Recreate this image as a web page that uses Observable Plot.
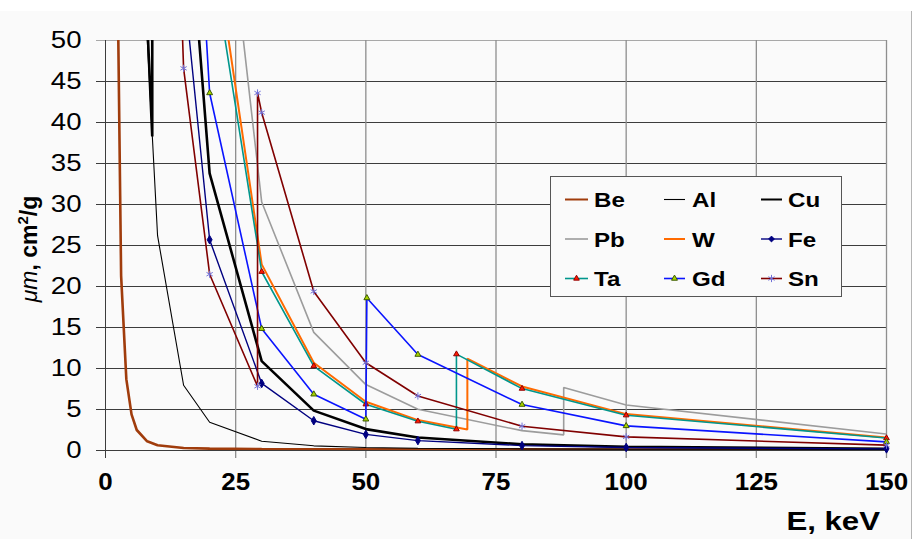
<!DOCTYPE html>
<html>
<head>
<meta charset="utf-8">
<script src="https://cdn.jsdelivr.net/npm/d3@7"></script>
<script src="https://cdn.jsdelivr.net/npm/@observablehq/plot@0.6"></script>
<style>
  html, body { margin: 0; padding: 0; background: #ffffff; }
  #wrap { position: relative; width: 912px; height: 539px; overflow: hidden; background: #ffffff; }
  #chart { position: absolute; left: 0; top: 11px; }
  #chart svg { display: block; }
</style>
</head>
<body>
<div id="wrap"><div id="chart"></div></div>
<script>
// Mass attenuation coefficient (cm²/g) against photon energy (keV)
const energyTicks = [0, 25, 50, 75, 100, 125, 150];
const muTicks = [0, 5, 10, 15, 20, 25, 30, 35, 40, 45, 50];

const seriesNames = ["Be", "Al", "Cu", "Pb", "W", "Fe", "Ta", "Gd", "Sn"];

const energyBe = [2, 3, 4, 5, 6, 8, 10, 15, 20, 30, 40, 50, 60, 80, 100, 150];
const muBe = [74.7, 21.3, 8.7, 4.4, 2.5, 1.12, 0.65, 0.31, 0.23, 0.18, 0.16, 0.155, 0.15, 0.14, 0.13, 0.12];

const energyAl = [6, 8, 10, 15, 20, 30, 40, 50, 60, 80, 100, 150];
const muAl = [115.3, 50.3, 26.2, 7.96, 3.44, 1.13, 0.57, 0.37, 0.28, 0.2, 0.17, 0.14];

const energyCu = [8, 8.98, 8.98, 10, 15, 20, 30, 40, 50, 60, 80, 100, 150];
const muCu = [52.6, 38.3, 278, 216, 74.1, 33.8, 10.9, 4.86, 2.61, 1.59, 0.76, 0.46, 0.22];

const energyPb = [20, 30, 40, 50, 60, 80, 88, 88, 100, 150];
const muPb = [86.4, 30.3, 14.4, 8.04, 5.02, 2.42, 1.91, 7.68, 5.55, 2.01];

const energyW = [15, 20, 30, 40, 50, 60, 69.5, 69.5, 80, 100, 150];
const muW = [139, 65.7, 22.7, 10.7, 5.95, 3.71, 2.55, 11.2, 7.81, 4.44, 1.58];

const energyFe = [10, 15, 20, 30, 40, 50, 60, 80, 100, 150];
const muFe = [171, 57.1, 25.7, 8.18, 3.63, 1.96, 1.21, 0.6, 0.37, 0.2];

const energyTa = [20, 30, 40, 50, 60, 67.4, 67.4, 80, 100, 150];
const muTa = [62, 21.8, 10.3, 5.64, 3.57, 2.6, 11.75, 7.55, 4.3, 1.52];

const energyGd = [15, 20, 30, 40, 50, 50.2, 60, 80, 100, 150];
const muGd = [97, 43.6, 14.85, 6.86, 3.81, 18.6, 11.7, 5.6, 3.0, 1.05];

const energySn = [10, 15, 20, 29.2, 29.2, 30, 40, 50, 60, 80, 100, 150];
const muSn = [137, 46.6, 21.5, 7.83, 43.6, 41.2, 19.4, 10.7, 6.65, 2.96, 1.66, 0.65];

const energyBySeries = {Be: energyBe, Al: energyAl, Cu: energyCu, Pb: energyPb, W: energyW, Fe: energyFe, Ta: energyTa, Gd: energyGd, Sn: energySn};
const muBySeries = {Be: muBe, Al: muAl, Cu: muCu, Pb: muPb, W: muW, Fe: muFe, Ta: muTa, Gd: muGd, Sn: muSn};

// Line and marker styling per element
const styles = {
  Be: {color: "#a03c0c", width: 2.6},
  Al: {color: "#000000", width: 1.1},
  Cu: {color: "#000000", width: 2.6},
  Pb: {color: "#9c9c9c", width: 1.6},
  W:  {color: "#ff6a00", width: 2},
  Fe: {color: "#000080", width: 1.4, symbol: "diamond", fill: "#000080", stroke: "#000080", r: 2.6},
  Ta: {color: "#00968c", width: 1.6, symbol: "triangle", fill: "#ff1a00", stroke: "#900000", r: 2.1},
  Gd: {color: "#0a14ff", width: 1.6, symbol: "triangle", fill: "#a8d400", stroke: "#3c5a00", r: 2.2},
  Sn: {color: "#800000", width: 1.6, symbol: "asterisk", fill: "none", stroke: "#7070d8", r: 3.4}
};

const rowsFor = name => energyBySeries[name].map((E, i) => ({series: name, E, mu: muBySeries[name][i]}));

const W_ = 912, H_ = 528;
const font = "'Liberation Sans', Arial, Helvetica, sans-serif";

const marks = [
  // horizontal grid (with outside tick stubs)
  Plot.ruleY(muTicks.filter(v => v < 50), {y: d => d, stroke: "#3c3c3c", strokeWidth: 1, insetLeft: -9}),
  Plot.ruleY([50], {y: d => d, stroke: "#a8a8a8", strokeWidth: 1.2, insetLeft: -9}),
  // vertical grid (with tick stubs below the axis)
  Plot.ruleX(energyTicks.filter(v => v > 0), {x: d => d, stroke: "#8e8e8e", strokeWidth: 1.3, insetBottom: -8}),
  Plot.ruleX([0], {x: d => d, stroke: "#3c3c3c", strokeWidth: 1, insetBottom: -8}),
  Plot.ruleY([0], {y: d => d, stroke: "#3c3c3c", strokeWidth: 1, insetLeft: -9})
];

for (const name of seriesNames) {
  const s = styles[name];
  marks.push(Plot.line(rowsFor(name), {
    x: "E", y: "mu", stroke: s.color, strokeWidth: s.width,
    strokeLinejoin: "miter", clip: true
  }));
  if (s.symbol) {
    marks.push(Plot.dot(rowsFor(name), {
      x: "E", y: "mu", filter: d => d.mu <= 50,
      symbol: s.symbol, r: s.r, fill: s.fill, stroke: s.stroke, strokeWidth: 1
    }));
  }
}

// tick labels
marks.push(Plot.text(muTicks, {
  y: d => d, text: d => String(d), frameAnchor: "left", textAnchor: "end",
  dx: -24, fontSize: 23, fill: "#000", fontFamily: font
}));
marks.push(Plot.text(energyTicks, {
  x: d => d, text: d => String(d), frameAnchor: "bottom", dy: 39,
  fontSize: 24, fontWeight: "bold", fill: "#000", fontFamily: font
}));

const chart = Plot.plot({
  width: W_, height: H_,
  marginLeft: 105, marginRight: 26, marginTop: 29, marginBottom: 89,
  x: {domain: [0, 150], axis: null},
  y: {domain: [0, 50], axis: null},
  style: {background: "#fafafa", fontFamily: font, overflow: "visible"},
  marks
});

document.getElementById("chart").appendChild(chart);

const svg = d3.select(chart);

// widen the tick label glyphs slightly (y labels, then x labels)
const labelGroups = svg.selectAll("g[aria-label='text']").nodes();
const widen = (node, k) => d3.select(node).selectAll("text").each(function () {
  const t = d3.select(this);
  t.attr("transform", (t.attr("transform") || "") + ` scale(${k},1)`);
});
widen(labelGroups[0], 1.2);
widen(labelGroups[1], 1.08);

// axis titles
svg.append("text")
  .attr("transform", "translate(880,519) scale(1.2,1)")
  .attr("text-anchor", "end")
  .attr("font-family", font).attr("font-size", 26).attr("font-weight", "bold")
  .text("E, keV");

const yTitle = svg.append("text")
  .attr("transform", "translate(37,238) rotate(-90)")
  .attr("text-anchor", "middle")
  .attr("font-family", font).attr("font-size", 23);
yTitle.append("tspan").attr("font-style", "italic").text("\u03bcm");
yTitle.append("tspan").attr("font-weight", "bold").text(", cm");
yTitle.append("tspan").attr("font-weight", "bold").attr("font-size", 15).attr("dy", -9).text("2");
yTitle.append("tspan").attr("font-weight", "bold").attr("dy", 9).text("/g");

// legend
const lg = svg.append("g");
lg.append("rect")
  .attr("x", 550.5).attr("y", 165.5).attr("width", 291).attr("height", 120)
  .attr("fill", "#fafafa").attr("stroke", "#555").attr("stroke-width", 1);
const colX = [[565, 588, 594], [664, 685, 692], [761, 782, 788]];
const rowY = [188.5, 228, 267.5];
seriesNames.forEach((name, i) => {
  const s = styles[name];
  const [x1, x2, tx] = colX[i % 3];
  const y = rowY[Math.floor(i / 3)];
  lg.append("line").attr("x1", x1).attr("x2", x2).attr("y1", y).attr("y2", y)
    .attr("stroke", s.color).attr("stroke-width", Math.min(s.width, 2));
  if (s.symbol) {
    const sym = {diamond: d3.symbolDiamond2, triangle: d3.symbolTriangle, asterisk: d3.symbolAsterisk}[s.symbol];
    lg.append("path")
      .attr("d", d3.symbol(sym, Math.PI * s.r * s.r)())
      .attr("transform", `translate(${(x1 + x2) / 2},${y})`)
      .attr("fill", s.fill).attr("stroke", s.stroke).attr("stroke-width", 1);
  }
  lg.append("text")
    .attr("transform", `translate(${tx},${y}) scale(1.15,1)`)
    .attr("dy", "0.36em").attr("text-anchor", "start")
    .attr("font-family", font).attr("font-size", 21).attr("font-weight", "bold")
    .attr("fill", "#000").text(name);
});

// outer right border of the chart area
svg.append("line").attr("x1", 911.5).attr("x2", 911.5).attr("y1", 0).attr("y2", H_)
  .attr("stroke", "#b4b4b4").attr("stroke-width", 1);
</script>
</body>
</html>
